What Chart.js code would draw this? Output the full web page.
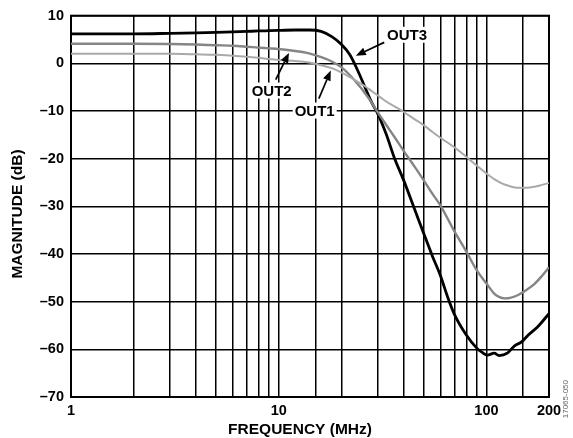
<!DOCTYPE html>
<html lang="en">
<head>
    <meta charset="UTF-8">
    <title>Frequency Response</title>
    <script src="https://cdn.jsdelivr.net/npm/chart.js@4.4.1/dist/chart.umd.min.js"></script>
    <style>
        html, body {
            margin: 0;
            padding: 0;
            background: #fff;
        }
        .chart-box {
            position: relative;
            width: 573px;
            height: 438px;
        }
    </style>
</head>
<body>
    <div class="chart-box">
        <canvas id="chart" width="573" height="438"></canvas>
    </div>

    <script>
        // frequency (MHz) / magnitude (dB) for each output
        const out3Freq = [1, 2, 3, 4, 5, 6, 7, 8, 9, 10, 12, 14, 16, 18, 20, 22, 24, 26, 28, 30, 33, 36, 40, 45, 50, 55, 60, 65, 70, 80, 90, 95, 101, 109, 115, 126, 137, 147, 159, 177, 200];
        const out3Mag  = [6.2, 6.2, 6.3, 6.4, 6.5, 6.6, 6.7, 6.8, 6.85, 6.9, 7.0, 7.0, 6.7, 5.6, 4.0, 1.8, -1.5, -5.0, -8.2, -10.6, -15.0, -19.8, -24.6, -30.5, -35.8, -40.5, -44.5, -49.0, -52.6, -57.0, -59.8, -60.6, -61.2, -60.8, -61.3, -60.8, -59.2, -58.5, -57.0, -55.2, -52.5];

        const out2Freq = [1, 2, 3, 4, 5, 6, 7, 8, 9, 10, 12, 14, 16, 18, 20, 23, 27, 30, 33.5, 36, 40, 45, 50, 55, 60, 70, 80, 90, 100, 109, 115, 122, 130, 142, 155, 171, 185, 200];
        const out2Mag  = [4.1, 4.1, 4.05, 3.95, 3.8, 3.7, 3.5, 3.3, 3.15, 3.0, 2.6, 2.1, 1.3, 0.4, -0.8, -3.4, -7.2, -10.3, -13.4, -15.4, -18.4, -21.6, -24.6, -27.4, -29.8, -35.2, -39.5, -43.5, -46.2, -48.3, -49.0, -49.3, -49.2, -48.6, -47.6, -46.2, -44.6, -42.8];

        const out1Freq = [1, 2, 3, 4, 5, 6, 7, 8, 9, 10, 12, 14, 16, 18, 20, 23, 26, 28, 31, 34, 37, 40, 45, 50, 55, 60, 70, 80, 90, 100, 110, 120, 130, 140, 155, 170, 185, 200];
        const out1Mag  = [2.0, 2.0, 2.0, 1.9, 1.8, 1.6, 1.4, 1.2, 0.9, 0.7, 0.5, 0.2, -0.4, -1.0, -1.9, -3.4, -4.8, -5.8, -7.2, -8.4, -9.3, -10.2, -11.7, -13.0, -14.4, -15.6, -17.6, -19.6, -21.5, -23.1, -24.4, -25.3, -25.8, -26.1, -26.1, -25.9, -25.5, -25.1];

        const xLabelTicks = [1, 10, 100, 200];

        // callout labels: text position and arrow (tail -> head), in MHz / dB
        const callouts = [
            { text: 'OUT3', at: [41.5, 6.0], tail: [32.2, 4.4], head: [23.5, 1.6] },
            { text: 'OUT2', at: [9.25, -5.7], tail: [9.67, -3.4], head: [11.2, 2.2] },
            { text: 'OUT1', at: [14.9, -9.9], tail: [15.6, -7.4], head: [17.8, -1.5] }
        ];

        const FONT = "'Liberation Sans', Arial, Helvetica, sans-serif";

        function toPoints(xs, ys) {
            return xs.map((x, i) => ({ x: x, y: ys[i] }));
        }

        function drawArrow(ctx, x1, y1, x2, y2) {
            const ang = Math.atan2(y2 - y1, x2 - x1);
            const len = 10, half = 4;
            const bx = x2 - len * Math.cos(ang), by = y2 - len * Math.sin(ang);
            ctx.beginPath();
            ctx.moveTo(x1, y1);
            ctx.lineTo(bx, by);
            ctx.lineWidth = 1.7;
            ctx.strokeStyle = '#000';
            ctx.stroke();
            ctx.beginPath();
            ctx.moveTo(x2, y2);
            ctx.lineTo(bx + half * Math.sin(ang), by - half * Math.cos(ang));
            ctx.lineTo(bx - half * Math.sin(ang), by + half * Math.cos(ang));
            ctx.closePath();
            ctx.fillStyle = '#000';
            ctx.fill();
        }

        // frame, axis titles, callouts and figure number
        const decorations = {
            id: 'decorations',
            beforeDatasetsDraw(chart) {
                const { ctx, chartArea: a } = chart;
                ctx.save();
                ctx.lineWidth = 2;
                ctx.strokeStyle = '#000';
                ctx.strokeRect(a.left, a.top, a.right - a.left, a.bottom - a.top);
                ctx.restore();
            },
            afterDatasetsDraw(chart) {
                const { ctx, scales } = chart;
                const xs = scales.x, ys = scales.y;
                ctx.save();
                ctx.font = 'bold 15px ' + FONT;
                ctx.textAlign = 'center';
                ctx.textBaseline = 'middle';
                callouts.forEach(c => {
                    const px = xs.getPixelForValue(c.at[0]);
                    const py = ys.getPixelForValue(c.at[1]);
                    const w = ctx.measureText(c.text).width;
                    ctx.fillStyle = '#fff';
                    ctx.fillRect(px - w / 2 - 2, py - 8, w + 4, 16);
                    ctx.fillStyle = '#000';
                    ctx.fillText(c.text, px, py + 1);
                    drawArrow(ctx,
                        xs.getPixelForValue(c.tail[0]), ys.getPixelForValue(c.tail[1]),
                        xs.getPixelForValue(c.head[0]), ys.getPixelForValue(c.head[1]));
                });
                ctx.restore();
            },
            afterDraw(chart) {
                const { ctx } = chart;
                ctx.save();
                ctx.fillStyle = '#000';
                ctx.font = 'bold 15.5px ' + FONT;
                ctx.textAlign = 'center';
                ctx.textBaseline = 'middle';
                ctx.fillText('FREQUENCY (MHz)', 300, 430);
                ctx.translate(18, 214);
                ctx.rotate(-Math.PI / 2);
                ctx.fillText('MAGNITUDE (dB)', 0, 0);
                ctx.restore();

                ctx.save();
                ctx.fillStyle = '#666';
                ctx.font = '8px ' + FONT;
                ctx.translate(566, 380);
                ctx.rotate(-Math.PI / 2);
                ctx.textAlign = 'right';
                ctx.textBaseline = 'middle';
                ctx.fillText('17065-050', 0, 0);
                ctx.restore();
            }
        };

        const ctx = document.getElementById('chart').getContext('2d');
        new Chart(ctx, {
            type: 'line',
            data: {
                datasets: [
                    {
                        label: 'OUT1',
                        data: toPoints(out1Freq, out1Mag),
                        borderColor: '#a9a9a9',
                        borderWidth: 2,
                        pointRadius: 0,
                        cubicInterpolationMode: 'monotone'
                    },
                    {
                        label: 'OUT2',
                        data: toPoints(out2Freq, out2Mag),
                        borderColor: '#858585',
                        borderWidth: 2.4,
                        pointRadius: 0,
                        cubicInterpolationMode: 'monotone'
                    },
                    {
                        label: 'OUT3',
                        data: toPoints(out3Freq, out3Mag),
                        borderColor: '#000',
                        borderWidth: 2.8,
                        pointRadius: 0,
                        cubicInterpolationMode: 'monotone'
                    }
                ]
            },
            options: {
                responsive: false,
                animation: false,
                layout: { padding: { top: 15, right: 24, left: 0, bottom: 0 } },
                plugins: {
                    legend: { display: false },
                    tooltip: { enabled: false }
                },
                scales: {
                    x: {
                        type: 'logarithmic',
                        min: 1,
                        max: 200,
                        afterFit: s => { s.height = 41; },
                        border: { display: false },
                        grid: { color: '#000', lineWidth: 1.5, drawTicks: false },
                        ticks: {
                            autoSkip: false,
                            maxRotation: 0,
                            padding: 5,
                            color: '#000',
                            font: { family: FONT, size: 14.5, weight: 'bold' },
                            callback: v => xLabelTicks.includes(v) ? String(v) : ''
                        }
                    },
                    y: {
                        min: -70,
                        max: 10,
                        afterFit: s => { s.width = 71; },
                        border: { display: false },
                        grid: { color: '#000', lineWidth: 1.5, drawTicks: false },
                        ticks: {
                            stepSize: 10,
                            padding: 7,
                            color: '#000',
                            font: { family: FONT, size: 14.5, weight: 'bold' },
                            callback: v => v < 0 ? '\u2013' + Math.abs(v) : String(v)
                        }
                    }
                }
            },
            plugins: [decorations]
        });
    </script>
</body>
</html>
